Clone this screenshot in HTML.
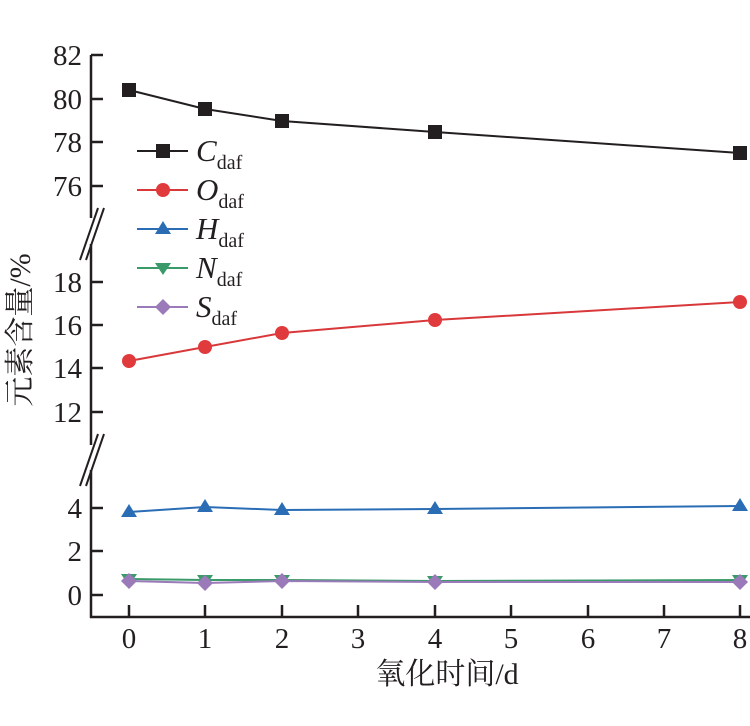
<!DOCTYPE html>
<html><head><meta charset="utf-8"><style>body{margin:0;background:#fff}</style></head><body>
<svg width="750" height="721" xmlns="http://www.w3.org/2000/svg" font-family="Liberation Serif, Noto Serif CJK SC, serif">
<g stroke="#231f20" stroke-width="2.5" fill="none">
<line x1="91" y1="55" x2="91" y2="218"/>
<line x1="91" y1="244" x2="91" y2="445"/>
<line x1="91" y1="470" x2="91" y2="618"/>
<line x1="90" y1="617" x2="750" y2="617"/>
<line x1="80" y1="260" x2="98" y2="208" stroke-width="2"/><line x1="86" y1="260" x2="104" y2="208" stroke-width="2"/>
<line x1="80" y1="486" x2="98" y2="434" stroke-width="2"/><line x1="86" y1="486" x2="104" y2="434" stroke-width="2"/>
<g stroke-width="2.5">
<line x1="91" y1="55" x2="103" y2="55"/><line x1="91" y1="99" x2="103" y2="99"/><line x1="91" y1="142" x2="103" y2="142"/><line x1="91" y1="186" x2="103" y2="186"/>
<line x1="91" y1="282" x2="103" y2="282"/><line x1="91" y1="325" x2="103" y2="325"/><line x1="91" y1="368" x2="103" y2="368"/><line x1="91" y1="412" x2="103" y2="412"/>
<line x1="91" y1="508" x2="103" y2="508"/><line x1="91" y1="551" x2="103" y2="551"/><line x1="91" y1="595" x2="103" y2="595"/>
<line x1="129" y1="617" x2="129" y2="605"/><line x1="205" y1="617" x2="205" y2="605"/><line x1="282" y1="617" x2="282" y2="605"/><line x1="358" y1="617" x2="358" y2="605"/><line x1="435" y1="617" x2="435" y2="605"/><line x1="511" y1="617" x2="511" y2="605"/><line x1="588" y1="617" x2="588" y2="605"/><line x1="664" y1="617" x2="664" y2="605"/><line x1="740" y1="617" x2="740" y2="605"/>
</g></g>
<g font-size="29" fill="#231f20" text-anchor="end">
<text x="82" y="65">82</text><text x="82" y="109">80</text><text x="82" y="152">78</text><text x="82" y="196">76</text>
<text x="82" y="292">18</text><text x="82" y="335">16</text><text x="82" y="378">14</text><text x="82" y="422">12</text>
<text x="82" y="518">4</text><text x="82" y="561">2</text><text x="82" y="605">0</text>
</g>
<g font-size="29" fill="#231f20" text-anchor="middle">
<text x="129" y="648">0</text><text x="205" y="648">1</text><text x="282" y="648">2</text><text x="358" y="648">3</text><text x="435" y="648">4</text><text x="511" y="648">5</text><text x="588" y="648">6</text><text x="664" y="648">7</text><text x="740" y="648">8</text>
<text x="447" y="684" font-size="30">氧化时间/d</text>
<text transform="translate(30,330) rotate(-90)" font-size="30">元素含量/%</text>
</g>
<polyline points="129,90 205,109 282,121 435,132 740,153" fill="none" stroke="#231f20" stroke-width="2"/>
<polyline points="129,361 205,347 282,333 435,320 740,302" fill="none" stroke="#d9383a" stroke-width="2"/>
<polyline points="129,512 205,507 282,510 435,509 740,506" fill="none" stroke="#2a6db5" stroke-width="2"/>
<polyline points="129,579 205,580 282,580 435,581 740,580" fill="none" stroke="#3a9a6a" stroke-width="2"/>
<polyline points="129,581 205,583 282,581 435,582 740,582" fill="none" stroke="#9a7ab8" stroke-width="2"/>
<g fill="#231f20"><rect x="122" y="83" width="14" height="14"/><rect x="198" y="102" width="14" height="14"/><rect x="275" y="114" width="14" height="14"/><rect x="428" y="125" width="14" height="14"/><rect x="733" y="146" width="14" height="14"/></g>
<g fill="#e03a3c"><circle cx="129" cy="361" r="7"/><circle cx="205" cy="347" r="7"/><circle cx="282" cy="333" r="7"/><circle cx="435" cy="320" r="7"/><circle cx="740" cy="302" r="7"/></g>
<g fill="#2a6db5"><path d="M129,504l8,13h-16z"/><path d="M205,499l8,13h-16z"/><path d="M282,502l8,13h-16z"/><path d="M435,501l8,13h-16z"/><path d="M740,498l8,13h-16z"/></g>
<g fill="#3a9a6a"><path d="M121,574h16l-8,12z"/><path d="M197,575h16l-8,12z"/><path d="M274,575h16l-8,12z"/><path d="M427,576h16l-8,12z"/><path d="M732,575h16l-8,12z"/></g>
<g fill="#9a7ab8"><path d="M129,573l8,8-8,8-8-8z"/><path d="M205,575l8,8-8,8-8-8z"/><path d="M282,573l8,8-8,8-8-8z"/><path d="M435,574l8,8-8,8-8-8z"/><path d="M740,574l8,8-8,8-8-8z"/></g>
<g stroke-width="2">
<line x1="137" y1="151" x2="188" y2="151" stroke="#231f20"/><rect x="156" y="144" width="14" height="14" fill="#231f20"/>
<line x1="137" y1="190" x2="188" y2="190" stroke="#d9383a"/><circle cx="163" cy="190" r="7" fill="#e03a3c"/>
<line x1="137" y1="229" x2="188" y2="229" stroke="#2a6db5"/><path d="M163,221l8,13h-16z" fill="#2a6db5"/>
<line x1="137" y1="268" x2="188" y2="268" stroke="#3a9a6a"/><path d="M155,263h16l-8,12z" fill="#3a9a6a"/>
<line x1="137" y1="307" x2="188" y2="307" stroke="#9a7ab8"/><path d="M163,299l8,8-8,8-8-8z" fill="#9a7ab8"/>
</g>
<g fill="#231f20" font-size="31" font-style="italic">
<text x="196" y="161">C<tspan font-size="20" font-style="normal" dy="8">daf</tspan></text>
<text x="196" y="200">O<tspan font-size="20" font-style="normal" dy="8">daf</tspan></text>
<text x="196" y="239">H<tspan font-size="20" font-style="normal" dy="8">daf</tspan></text>
<text x="196" y="278">N<tspan font-size="20" font-style="normal" dy="8">daf</tspan></text>
<text x="196" y="317">S<tspan font-size="20" font-style="normal" dy="8">daf</tspan></text>
</g>
</svg>
</body></html>
